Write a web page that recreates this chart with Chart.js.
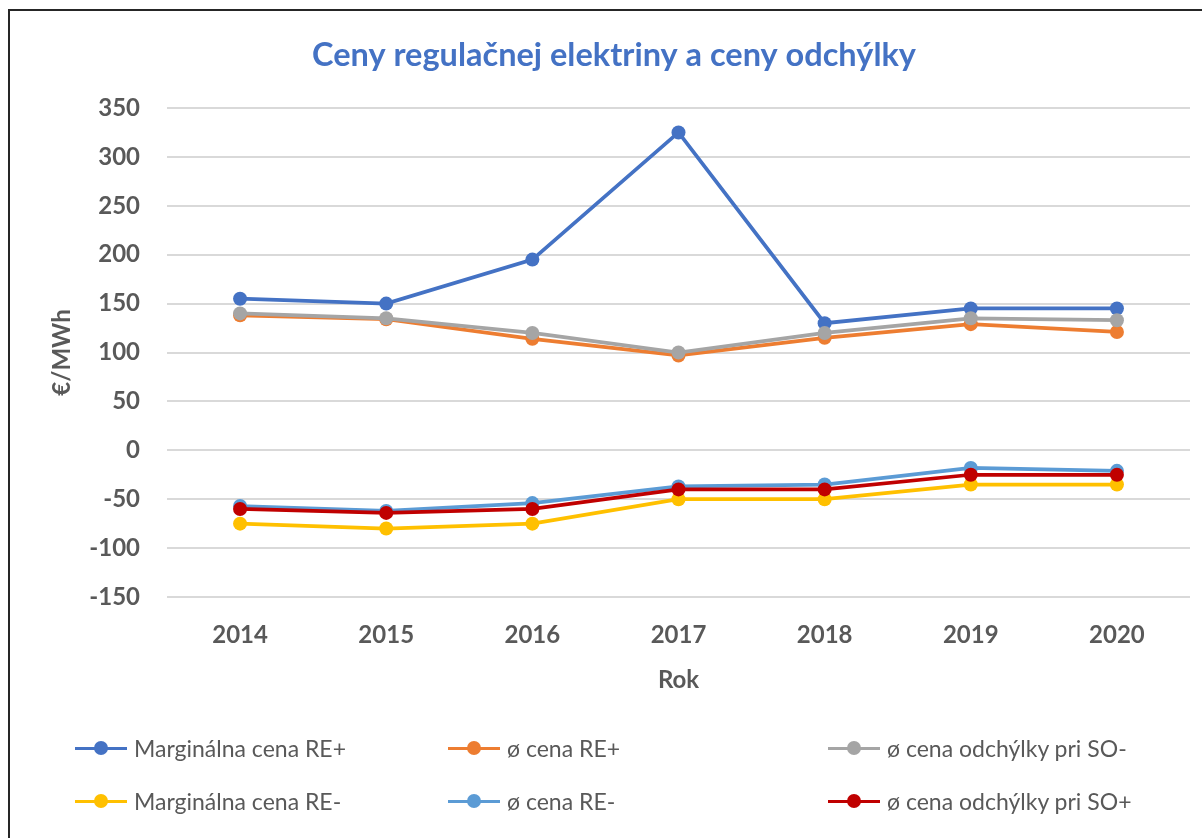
<!DOCTYPE html>
<html>
<head>
<meta charset="utf-8">
<title>Ceny regulačnej elektriny a ceny odchýlky</title>
<script src="https://cdn.jsdelivr.net/npm/chart.js@4.4.1/dist/chart.umd.min.js"></script>
<style>
  html, body { margin: 0; padding: 0; background: #fff; overflow: hidden; width: 1202px; height: 838px; }
  #frame { position: absolute; left: 8px; top: 9px; width: 1300px; height: 900px;
           border-left: 2px solid #262626; border-top: 2px solid #262626; }
  #wrap { position: absolute; left: 0; top: 0; width: 1202px; height: 705px; }
  #legend { position: absolute; left: 0; top: 0; width: 1202px; height: 838px;
            font-family: Lato, sans-serif; font-size: 23px; color: #595959; }
  .item { position: absolute; display: flex; align-items: center; white-space: nowrap; transform: translateY(-50%); }
  .sw { position: relative; width: 52px; height: 3px; margin-right: 7px; }
  .sw i { position: absolute; left: 19px; top: -6px; width: 14px; height: 14px; border-radius: 50%; }
</style>
</head>
<body>
<div id="frame"></div>
<div id="wrap"><canvas id="chart"></canvas></div>
<div id="legend"></div>
<script>
// years on the x axis
const years = ['2014', '2015', '2016', '2017', '2018', '2019', '2020'];

// €/MWh
const margRePlus = [155, 150, 195, 325, 130, 145, 145];
const avgRePlus = [138, 134, 114, 97, 115, 129, 121];
const avgSoMinus = [140, 135, 120, 100, 120, 135, 133];
const margReMinus = [-75, -80, -75, -50, -50, -35, -35];
const avgReMinus = [-57, -62, -54, -37, -35, -18, -21];
const avgSoPlus = [-60, -64, -60, -40, -40, -25, -25];

const seriesNames = [
    'Marginálna cena RE+',
    'ø cena RE+',
    'ø cena odchýlky pri SO-',
    'Marginálna cena RE-',
    'ø cena RE-',
    'ø cena odchýlky pri SO+'
];
const seriesData = [margRePlus, avgRePlus, avgSoMinus, margReMinus, avgReMinus, avgSoPlus];
const seriesColors = ['#4472C4', '#ED7D31', '#A5A5A5', '#FFC000', '#5B9BD5', '#C00000'];

const textGray = '#595959';
Chart.defaults.font.family = 'Lato, sans-serif';

var datasets = seriesData.map(function (d, i) {
    return {
        label: seriesNames[i],
        data: d,
        borderColor: seriesColors[i],
        backgroundColor: seriesColors[i],
        borderWidth: 3.75,
        pointRadius: 7,
        pointBorderWidth: 0,
        pointBackgroundColor: seriesColors[i],
        tension: 0,
        // later series sit on top, like in the spreadsheet
        order: seriesData.length - i
    };
});

var ctx = document.getElementById('chart').getContext('2d');
var chart = new Chart(ctx, {
    type: 'line',
    data: {
        labels: years,
        datasets: datasets
    },
    options: {
        responsive: true,
        maintainAspectRatio: false,
        animation: false,
        layout: {
            padding: { top: 36, left: 38, right: 12, bottom: 0 }
        },
        plugins: {
            legend: { display: false },
            tooltip: { enabled: false },
            title: {
                display: true,
                text: 'Ceny regulačnej elektriny a ceny odchýlky',
                color: '#4472C4',
                font: { size: 32.5, weight: 'bold' },
                padding: { top: 0, bottom: 33 }
            }
        },
        scales: {
            x: {
                offset: true,
                grid: { display: false, drawTicks: false },
                border: { display: false },
                ticks: { color: textGray, font: { size: 24, weight: 'bold' }, padding: 24 },
                title: {
                    display: true,
                    text: 'Rok',
                    color: textGray,
                    font: { size: 24, weight: 'bold' },
                    padding: { top: 0, bottom: 10 }
                },
                afterFit: function (scale) {
                    scale.height = 108;
                }
            },
            y: {
                min: -150,
                max: 350,
                ticks: { stepSize: 50, color: textGray, font: { size: 24, weight: 'bold' }, padding: 27 },
                grid: { color: '#D9D9D9', lineWidth: 2, drawTicks: false },
                border: { display: false },
                title: {
                    display: true,
                    text: '€/MWh',
                    color: textGray,
                    font: { size: 24, weight: 'bold' },
                    padding: { top: 10, bottom: 0 }
                },
                afterFit: function (scale) {
                    scale.width = 129;
                }
            }
        }
    }
});

// legend: two rows, three columns, line with a dot in front of each name
var legendCols = [75, 448, 828];
var legendRows = [748, 801];
var legend = document.getElementById('legend');
chart.data.datasets.forEach(function (ds, i) {
    var item = document.createElement('div');
    item.className = 'item';
    item.style.left = legendCols[i % 3] + 'px';
    item.style.top = legendRows[Math.floor(i / 3)] + 'px';
    var sw = document.createElement('span');
    sw.className = 'sw';
    sw.style.background = ds.borderColor;
    var dot = document.createElement('i');
    dot.style.background = ds.borderColor;
    sw.appendChild(dot);
    var txt = document.createElement('span');
    txt.textContent = ds.label;
    item.appendChild(sw);
    item.appendChild(txt);
    legend.appendChild(item);
});
</script>
</body>
</html>
